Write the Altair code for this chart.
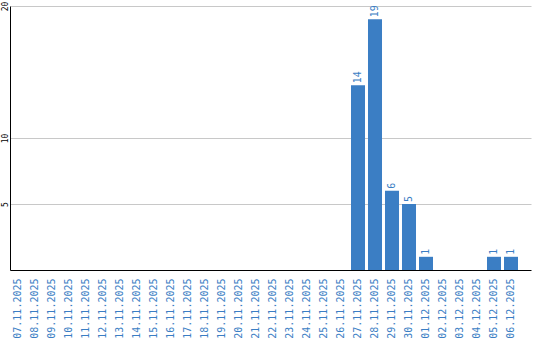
import altair as alt
import pandas as pd

dates = ["07.11.2025", "08.11.2025", "09.11.2025", "10.11.2025", "11.11.2025",
         "12.11.2025", "13.11.2025", "14.11.2025", "15.11.2025", "16.11.2025",
         "17.11.2025", "18.11.2025", "19.11.2025", "20.11.2025", "21.11.2025",
         "22.11.2025", "23.11.2025", "24.11.2025", "25.11.2025", "26.11.2025",
         "27.11.2025", "28.11.2025", "29.11.2025", "30.11.2025", "01.12.2025",
         "02.12.2025", "03.12.2025", "04.12.2025", "05.12.2025", "06.12.2025"]
values = [0, 0, 0, 0, 0, 0, 0, 0, 0, 0,
          0, 0, 0, 0, 0, 0, 0, 0, 0, 0,
          14, 19, 6, 5, 1, 0, 0, 0, 1, 1]
y_ticks = [5, 10, 20]

df = pd.DataFrame({"date": dates, "value": values})
df["label"] = [str(v) if v > 0 else "" for v in values]

BLUE = "#3b7ec4"
FONT = "DejaVu Sans Mono"

x = alt.X("date:N", sort=dates, title=None,
          scale=alt.Scale(paddingInner=0.176, paddingOuter=0.4115, align=0.0714),
          axis=alt.Axis(labelAngle=270, labelAlign="right", labelBaseline="middle",
                        labelColor=BLUE, labelFont=FONT, labelFontSize=10,
                        labelPadding=8, ticks=False, domainColor="#000000",
                        domainWidth=1, grid=False, labelOverlap=False))
y = alt.Y("value:Q", title=None, scale=alt.Scale(domain=[0, 20], nice=False),
          axis=alt.Axis(values=y_ticks, labelAngle=270, labelAlign="center",
                        labelBaseline="bottom", labelFont=FONT, labelFontSize=8,
                        labelColor="#000000", labelPadding=1, ticks=False,
                        domainColor="#000000", domainWidth=1,
                        grid=True, gridColor="#c8c8c8", gridWidth=1))

bars = alt.Chart(df).mark_bar(color=BLUE).encode(x=x, y=y)
text = alt.Chart(df).mark_text(angle=270, align="left", baseline="middle",
                               dx=2, color=BLUE, font=FONT, fontSize=10).encode(
    x=alt.X("date:N", sort=dates), y="value:Q", text="label:N")

chart = alt.layer(bars, text).properties(
    width=521, height=264,
    background="white",
    autosize=alt.AutoSizeParams(type="none"),
    padding={"left": 10, "top": 6, "right": 9, "bottom": 70},
).configure_view(stroke=None)

chart.save("out.html", embed_options={"renderer": "svg", "actions": False})
